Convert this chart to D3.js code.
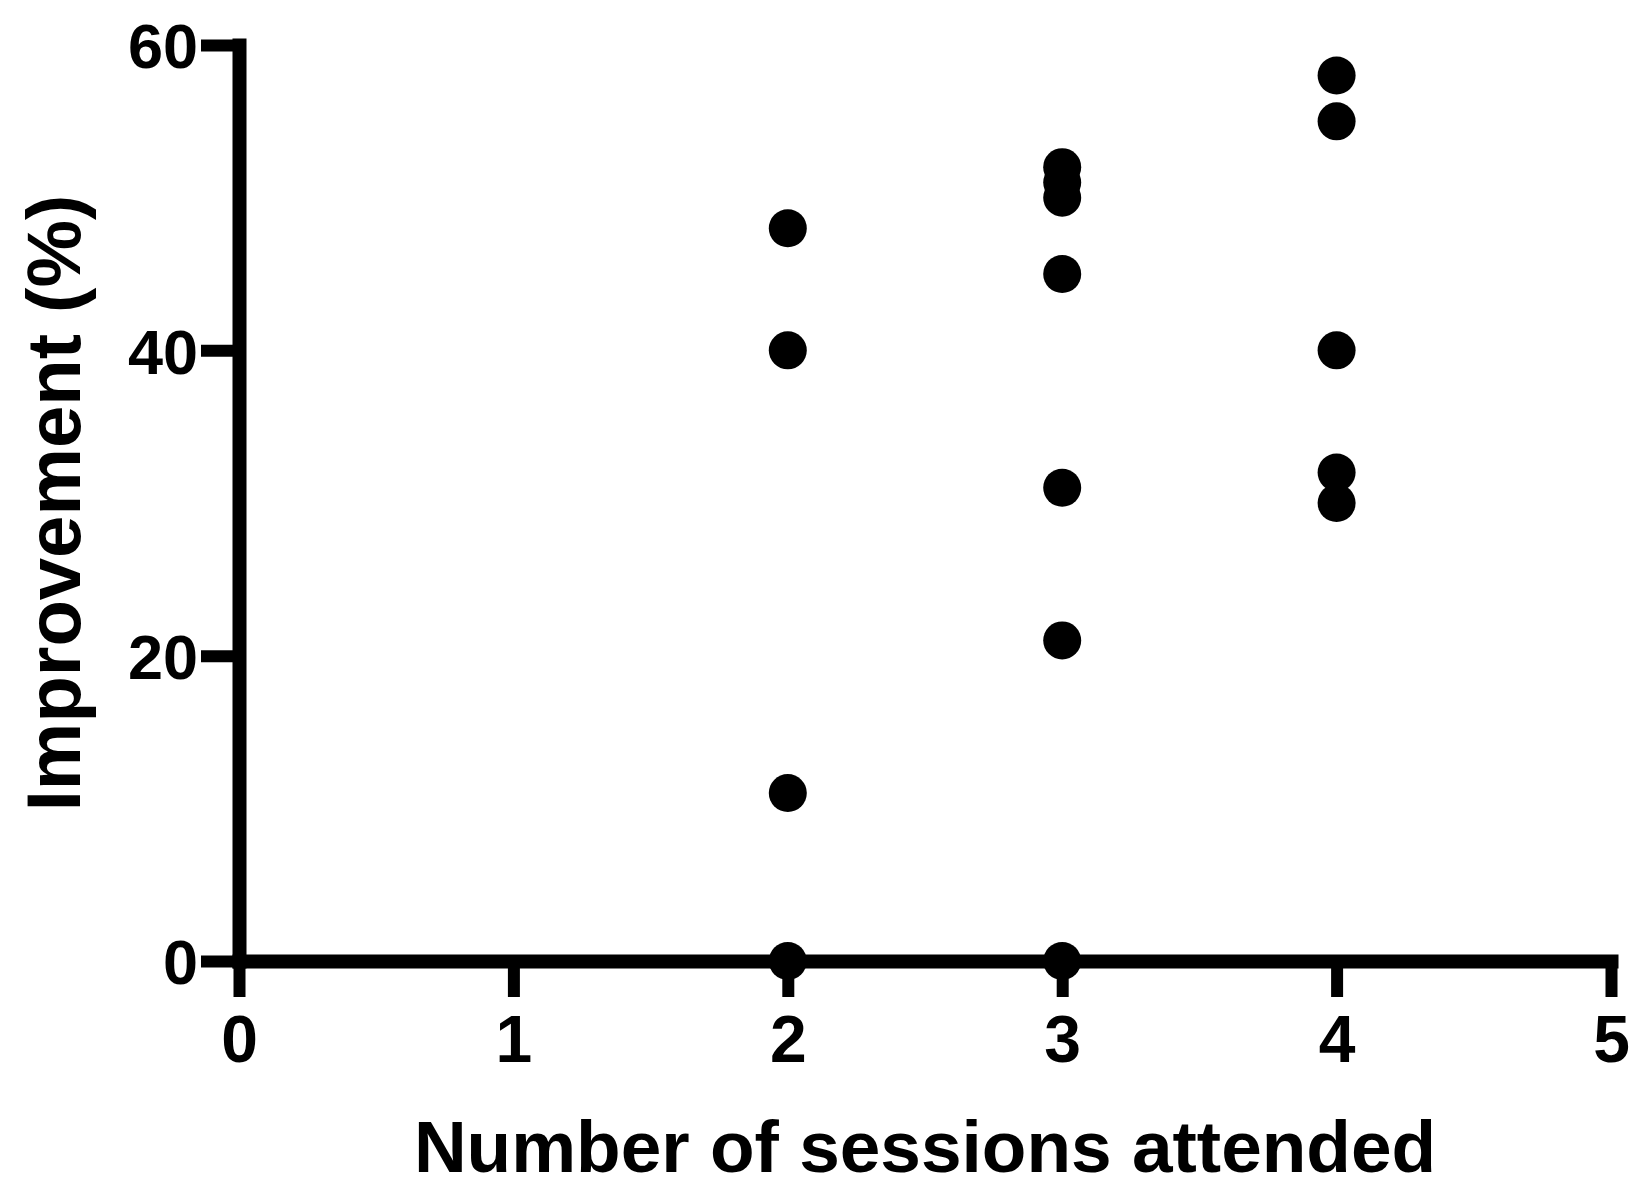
<!DOCTYPE html>
<html>
<head>
<meta charset="utf-8">
<script src="https://cdn.jsdelivr.net/npm/d3@7"></script>
<style>
  html, body { margin: 0; padding: 0; background: #fff; }
  svg { display: block; }
  text { font-family: "Liberation Sans", Arial, Helvetica, sans-serif; font-weight: bold; fill: #000; }
</style>
</head>
<body>
<svg id="chart" width="1638" height="1193"></svg>
<script>
// Sessions attended (x) and improvement in percent (y), one group per session count
const sessions = [2, 3, 4];
const improvementTwo = [48, 40, 11, 0];
const improvementThree = [52, 51, 50, 45, 31, 21, 0];
const improvementFour = [58, 55, 40, 32, 30];
const xTicks = [0, 1, 2, 3, 4, 5];
const yTicks = [0, 20, 40, 60];
const xTitle = "Number of sessions attended";
const yTitle = "Improvement (%)";

const groups = [improvementTwo, improvementThree, improvementFour];
const points = [];
sessions.forEach((s, i) => groups[i].forEach(v => points.push({ x: s, y: v })));

const svg = d3.select("#chart");
const plotLeft = 239, plotRight = 1611, plotTop = 45, plotBottom = 961;

const x = d3.scaleLinear().domain([0, 5]).range([plotLeft, plotRight]);
const y = d3.scaleLinear().domain([0, 60]).range([plotBottom, plotTop]);
const intFormat = d3.format("d");

// Y axis
const gy = svg.append("g")
  .attr("transform", `translate(${plotLeft},0)`)
  .call(d3.axisLeft(y).tickValues(yTicks).tickFormat(intFormat)
    .tickSize(38).tickSizeOuter(0).tickPadding(3));
gy.select(".domain").attr("stroke", "#000").attr("stroke-width", 14).attr("stroke-linecap", "square");
gy.selectAll(".tick line").attr("stroke", "#000").attr("stroke-width", 12);
gy.selectAll(".tick text")
  .attr("font-size", 63).attr("dy", "0.36em").attr("fill", "#000");

// X axis
const gx = svg.append("g")
  .attr("transform", `translate(0,${plotBottom})`)
  .call(d3.axisBottom(x).tickValues(xTicks).tickFormat(intFormat)
    .tickSize(36).tickSizeOuter(0).tickPadding(18));
gx.select(".domain").attr("stroke", "#000").attr("stroke-width", 14).attr("stroke-linecap", "square");
gx.selectAll(".tick line").attr("stroke", "#000").attr("stroke-width", 12);
gx.selectAll(".tick text")
  .attr("font-size", 66).attr("dy", "0.71em").attr("fill", "#000");

svg.selectAll("g").attr("font-family", null).attr("font-size", null);

// Data points
svg.append("g")
  .selectAll("circle")
  .data(points)
  .join("circle")
  .attr("cx", d => x(d.x))
  .attr("cy", d => y(d.y))
  .attr("r", 19)
  .attr("fill", "#000");

// Axis titles
svg.append("text")
  .attr("x", (plotLeft + plotRight) / 2)
  .attr("y", 1172)
  .attr("text-anchor", "middle")
  .attr("font-size", 73)
  .text(xTitle);

svg.append("text")
  .attr("transform", `translate(80,${(plotTop + plotBottom) / 2}) rotate(-90)`)
  .attr("text-anchor", "middle")
  .attr("font-size", 76)
  .text(yTitle);
</script>
</body>
</html>
